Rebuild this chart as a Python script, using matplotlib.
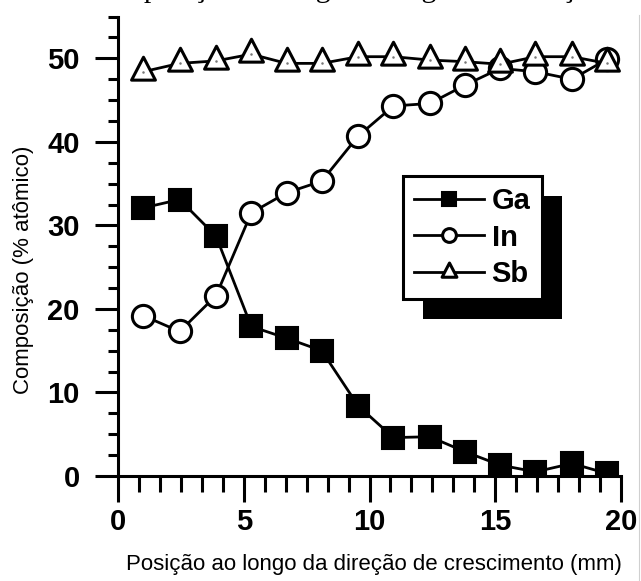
import matplotlib
matplotlib.use("Agg")
import matplotlib.pyplot as plt
from matplotlib.path import Path
from matplotlib.patches import Rectangle
from matplotlib.ticker import MultipleLocator, AutoMinorLocator
from matplotlib.transforms import IdentityTransform

# ===== DATA =====
posicao = [1.0, 2.45, 3.9, 5.3, 6.7, 8.1, 9.55, 10.95, 12.4, 13.8, 15.2, 16.6, 18.05, 19.45]
ga = [32.1, 33.1, 28.7, 17.9, 16.5, 15.0, 8.4, 4.6, 4.7, 2.9, 1.3, 0.5, 1.5, 0.3]
in_ = [19.2, 17.3, 21.6, 31.5, 33.9, 35.3, 40.7, 44.3, 44.6, 46.8, 48.8, 48.4, 47.5, 49.9]
sb = [48.4, 49.4, 49.7, 50.5, 49.4, 49.4, 50.2, 50.2, 49.8, 49.6, 49.3, 50.2, 50.2, 49.4]

titulo = "Composição ao longo do lingote na direção de crescimento"
xlabel = "Posição ao longo da direção de crescimento (mm)"
ylabel = "Composição (% atômico)"

plt.rcParams["font.family"] = ["Liberation Sans", "DejaVu Sans"]

W, H = 641, 581
fig = plt.figure(figsize=(W / 100, H / 100), dpi=100)

# axes box in pixels: x 118..621, y 16.6..476
ax = fig.add_axes([118 / W, (H - 476) / H, 503 / W, (476 - 16.6) / H])

# triangle marker with centroid at the data point
tri = Path([(0, 16), (-12.5, -8), (12.5, -8), (0, 16)],
           [Path.MOVETO, Path.LINETO, Path.LINETO, Path.CLOSEPOLY])

lw = 2.0
ax.plot(posicao, ga, color="black", lw=lw, marker="s", ms=15.5,
        mfc="black", mec="black", mew=1.5, label="Ga", zorder=2)
ax.plot(posicao, in_, color="black", lw=lw, marker="o", ms=16,
        mfc="white", mec="black", mew=2.2, label="In", zorder=2.1)
ax.plot(posicao, sb, color="black", lw=lw, marker=tri, ms=22,
        mfc="white", mec="black", mew=2.2, label="Sb", zorder=2.2)
ax.plot(posicao, sb, ls="none", marker="o", ms=1.8, mfc="#777777",
        mec="none", zorder=2.3)

ax.set_xlim(0, 20)
ax.set_ylim(0, 55)

for side in ["top", "right"]:
    ax.spines[side].set_visible(False)
for side in ["left", "bottom"]:
    ax.spines[side].set_linewidth(2.2)

ax.xaxis.set_major_locator(MultipleLocator(5))
ax.xaxis.set_minor_locator(AutoMinorLocator(6))
ax.yaxis.set_major_locator(MultipleLocator(10))
ax.yaxis.set_minor_locator(AutoMinorLocator(4))

ax.tick_params(axis="x", which="major", direction="out", length=19, width=2.2, pad=4)
ax.tick_params(axis="x", which="minor", direction="out", length=11.5, width=2.2)
ax.tick_params(axis="y", which="major", direction="out", length=16.5, width=2.2, pad=11)
ax.tick_params(axis="y", which="minor", direction="out", length=7.5, width=2.2)
for lab in ax.get_xticklabels() + ax.get_yticklabels():
    lab.set_fontsize(21)
    lab.set_fontweight("bold")

ax.set_xlabel(xlabel, fontsize=16)
ax.set_ylabel(ylabel, fontsize=16)
ax.xaxis.set_label_coords((374 - 118) / 503, (476 - 554) / 459.4)
ax.yaxis.set_label_coords((34 - 118) / 503, (476 - 270) / 459.4)

leg = ax.legend(loc="upper left",
                bbox_to_anchor=((403 - 118) / 503, (476 - 176) / 459.4),
                bbox_transform=ax.transAxes, borderaxespad=0,
                prop={"size": 21, "weight": "bold"}, markerscale=0.62,
                handlelength=2.38, handletextpad=0.27, borderpad=0.39,
                labelspacing=0.28, fancybox=False, framealpha=1,
                edgecolor="black")
leg.get_frame().set_linewidth(2.2)
leg.set_zorder(5)

# title, mostly cut off at the top edge like the reference
fig.text(86 / W, 1 + 3 / H, titulo, fontsize=21.4, ha="left",
         va="baseline", family=["Liberation Serif", "DejaVu Serif"])

# drop shadow behind the legend box
fig.canvas.draw()
bb = leg.get_window_extent()
ax.add_patch(Rectangle((bb.x0 + 20, bb.y0 - 20), bb.width, bb.height,
                       transform=IdentityTransform(), facecolor="black",
                       edgecolor="none", zorder=4.5, clip_on=False))

# cropped right edge of the screenshot
fig.add_artist(Rectangle((636.5 / W, 0), (W - 636.5) / W, 1,
                         transform=fig.transFigure, facecolor="white",
                         edgecolor="none", zorder=10))
fig.add_artist(plt.Line2D([639 / W, 639 / W], [0, (H - 15) / H],
                          transform=fig.transFigure, color="#d0d0d0",
                          lw=0.8, zorder=11))

fig.savefig("out.png", dpi=100)
